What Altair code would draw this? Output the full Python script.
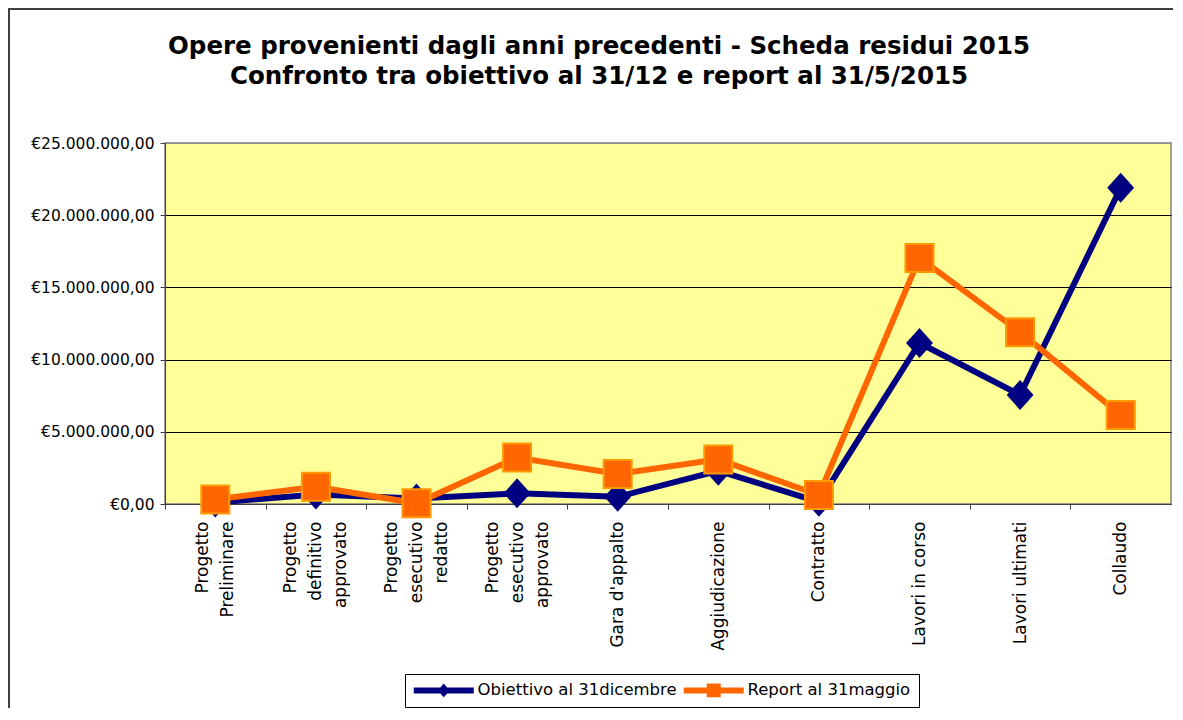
import altair as alt
import pandas as pd

# ---- data ----
categories = [
    "Progetto\nPreliminare",
    "Progetto\ndefinitivo\napprovato",
    "Progetto\nesecutivo\nredatto",
    "Progetto\nesecutivo\napprovato",
    "Gara d'appalto",
    "Aggiudicazione",
    "Contratto",
    "Lavori in corso",
    "Lavori ultimati",
    "Collaudo",
]
obiettivo = [100000, 650000, 380000, 740000, 500000, 2300000, 150000, 11150000, 7550000, 21900000]
report = [310000, 1200000, 50000, 3220000, 2080000, 3090000, 620000, 17040000, 11900000, 6160000]
series_names = ["Obiettivo al 31dicembre", "Report al 31maggio"]
y_ticks = [0, 5000000, 10000000, 15000000, 20000000, 25000000]
title_lines = [
    "Opere provenienti dagli anni precedenti - Scheda residui 2015",
    "Confronto tra obiettivo al 31/12 e report al 31/5/2015",
]

NAVY = "#000080"
ORANGE = "#FF6600"
ORANGE_EDGE = "#FF9900"

rows = []
for c, v in zip(categories, obiettivo):
    rows.append({"category": c, "value": v, "series": series_names[0]})
for c, v in zip(categories, report):
    rows.append({"category": c, "value": v, "series": series_names[1]})
df = pd.DataFrame(rows)

W, H = 1006, 361
STEP = W / len(categories)
LINE_H = 25

x_enc = alt.X(
    "category:N",
    sort=categories,
    scale=alt.Scale(type="point", padding=0.5, domain=categories),
    axis=alt.Axis(
        title=None,
        labelAngle=270,
        labelExpr="split(datum.label, '\\n')",
        labelFont="DejaVu Sans",
        labelFontSize=17,
        labelLineHeight=LINE_H,
        labelColor="black",
        labelPadding=12,
        labelOverlap=False,
        labelLimit=300,
        tickSize=5,
        tickOffset=-STEP / 2,
        labelOffset={
            "condition": [
                {"test": "length(split(datum.label, '\\n')) == 3", "value": STEP / 2 - LINE_H},
                {"test": "length(split(datum.label, '\\n')) == 2", "value": STEP / 2 - LINE_H / 2},
            ],
            "value": STEP / 2,
        },
        tickColor="#404040",
        domainColor="#404040",
        grid=False,
    ),
)
y_enc = alt.Y(
    "value:Q",
    scale=alt.Scale(domain=[0, 25000000], nice=False),
    axis=alt.Axis(
        title=None,
        values=y_ticks,
        labelExpr="datum.value == 0 ? '€0,00' : '€' + format(datum.value / 1000000, 'd') + '.000.000,00'",
        labelFont="DejaVu Sans",
        labelFontSize=15.5,
        labelColor="black",
        labelPadding=6,
        tickSize=5,
        tickColor="#404040",
        domainColor="#404040",
        grid=True,
        gridColor={"condition": {"test": "datum.value >= 25000000", "value": "#8c8c8c"}, "value": "black"},
        gridWidth=1,
    ),
)

base = alt.Chart(df)

blue = base.transform_filter(alt.datum.series == series_names[0])
orange = base.transform_filter(alt.datum.series == series_names[1])

blue_line = blue.mark_line(color=NAVY, strokeWidth=6).encode(x=x_enc, y=y_enc)
blue_pts = blue.mark_point(
    shape="M0,-1.07L0.96,0L0,1.07L-0.96,0Z", filled=True, size=784, color=NAVY, opacity=1
).encode(x=x_enc, y=y_enc)
orange_line = orange.mark_line(color=ORANGE, strokeWidth=6).encode(x=x_enc, y=y_enc)
orange_pts = orange.mark_point(
    shape="square", filled=True, size=784, fill=ORANGE, stroke=ORANGE_EDGE, strokeWidth=2, opacity=1
).encode(x=x_enc, y=y_enc)

legend_paths = [
    "M-1,-0.4L2.544,-0.4L3,-0.93L3.456,-0.4L7,-0.4L7,0.4L3.456,0.4L3,0.93L2.544,0.4L-1,0.4Z",
    "M-1,-0.4L2.07,-0.4L2.07,-0.93L3.93,-0.93L3.93,-0.4L7,-0.4L7,0.4L3.93,0.4L3.93,0.93L2.07,0.93L2.07,0.4L-1,0.4Z",
]
leg = alt.Legend(
    title=None,
    orient="none",
    legendX=240,
    legendY=531,
    direction="horizontal",
    fillColor="white",
    strokeColor="black",
    padding=8,
    labelFont="DejaVu Sans",
    labelFontSize=16.5,
    labelColor="black",
    labelOffset=48,
    symbolSize=225,
    symbolStrokeWidth=0,
    columnPadding=6,
    labelLimit=400,
)
legend_layer = base.transform_filter("false").mark_point(filled=True, opacity=1).encode(
    x=x_enc,
    y=y_enc,
    color=alt.Color("series:N", scale=alt.Scale(domain=series_names, range=[NAVY, ORANGE]), legend=leg),
    shape=alt.Shape("series:N", scale=alt.Scale(domain=series_names, range=legend_paths), legend=leg),
)

frame = alt.Chart(pd.DataFrame({"a": [0]})).mark_rect(
    fillOpacity=0, stroke="#404040", strokeWidth=2, clip=False
).encode(
    x=alt.value(-156), y=alt.value(-134), x2=alt.value(W + 40), y2=alt.value(H + 260)
)

chart = alt.layer(frame, blue_line, blue_pts, orange_line, orange_pts, legend_layer).properties(
    width=W,
    height=H,
    background="white",
    autosize=alt.AutoSizeParams(type="none"),
    padding={"left": 157, "top": 135, "right": 2, "bottom": 204},
    title=alt.TitleParams(
        text=title_lines,
        font="DejaVu Sans",
        fontSize=24.5,
        fontWeight="bold",
        color="black",
        anchor="middle",
        dx=-69,
        offset=-81,
        lineHeight=30,
    ),
).configure_view(fill="#FFFF99", stroke="#808080", strokeWidth=1.5)

chart.save("out.html", embed_options={"renderer": "svg", "actions": False})
